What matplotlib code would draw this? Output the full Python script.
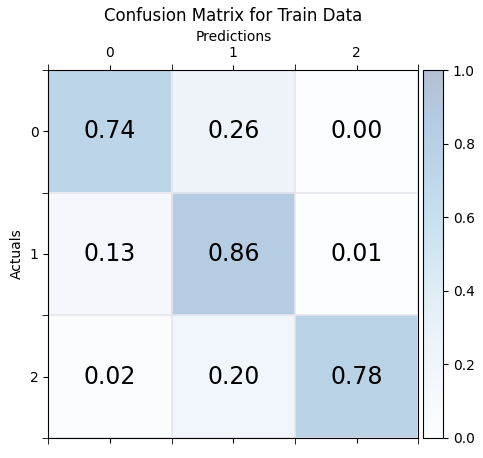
import numpy as np
import matplotlib
matplotlib.use("Agg")
import matplotlib.pyplot as plt

labels = ["0", "1", "2"]
cm = np.array([[0.74, 0.26, 0.00],
               [0.13, 0.86, 0.01],
               [0.02, 0.20, 0.78]])

fig = plt.figure(figsize=(4.83, 4.58), dpi=100)
ax = fig.add_axes([0.1, 0.044, 0.766, 0.803])
cax = fig.add_axes([0.876, 0.044, 0.041, 0.803])
im = ax.matshow(cm, cmap="Blues", alpha=0.3, vmin=0, vmax=1, aspect="auto")
for i in range(3):
    for j in range(3):
        ax.text(j, i, f"{cm[i, j]:.2f}", ha="center", va="center", fontsize=17)
ax.set_xticks(range(3))
ax.set_xticklabels(labels)
ax.set_yticks(range(3))
ax.set_yticklabels(labels)
ax.set_xticks(np.arange(-0.5, 3, 1), minor=True)
ax.set_yticks(np.arange(-0.5, 3, 1), minor=True)
ax.grid(which="minor", color="#e6e6ee", linewidth=1.2)
ax.tick_params(which="minor", length=4)
ax.xaxis.set_label_position("top")
ax.set_xlabel("Predictions")
ax.set_ylabel("Actuals")
ax.set_title("Confusion Matrix for Train Data", fontsize=12)
fig.colorbar(im, cax=cax)
fig.savefig("out.png", dpi=100)
